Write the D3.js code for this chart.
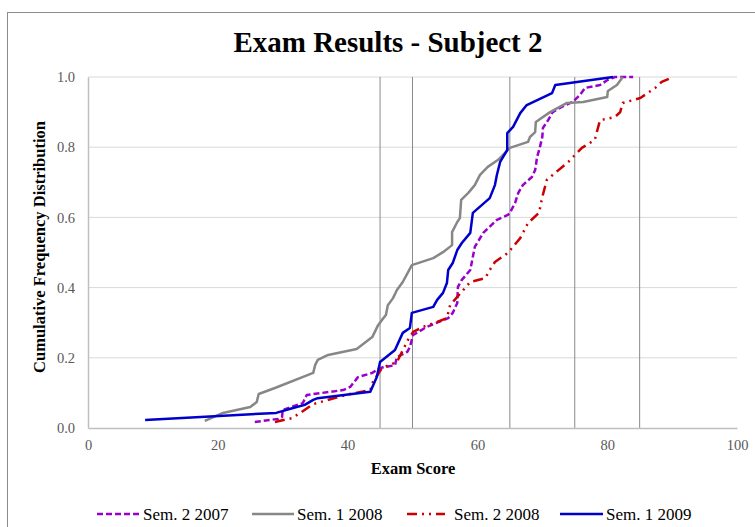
<!DOCTYPE html>
<html>
<head>
<meta charset="utf-8">
<script src="https://cdn.jsdelivr.net/npm/d3@7"></script>
<style>
  body { margin: 0; background: #fff; }
  svg { display: block; font-family: "Liberation Serif", "Times New Roman", serif; }
</style>
</head>
<body>
<div id="chart"></div>
<script>
// Data: [exam score, cumulative frequency]
const sem2_2007 = [
  [25.7, 0.017], [29.3, 0.026], [29.9, 0.031], [30.0, 0.051], [33.1, 0.071], [33.7, 0.094],
  [39.3, 0.108], [40.4, 0.117], [41.6, 0.145], [43.8, 0.157], [45.0, 0.171], [47.3, 0.179],
  [47.6, 0.202], [49.2, 0.217], [49.6, 0.231], [50.1, 0.265], [52.2, 0.288], [55.5, 0.313],
  [56.2, 0.328], [56.9, 0.356], [57.0, 0.402], [57.6, 0.422], [58.9, 0.450], [59.6, 0.516],
  [60.9, 0.556], [63.0, 0.593], [64.7, 0.607], [65.0, 0.613], [65.8, 0.641], [66.3, 0.670],
  [67.0, 0.692], [68.4, 0.715], [68.9, 0.735], [69.2, 0.772], [69.6, 0.798], [70.0, 0.829],
  [70.1, 0.855], [70.9, 0.877], [71.6, 0.900], [73.0, 0.915], [74.7, 0.929], [75.8, 0.949],
  [76.6, 0.969], [78.9, 0.977], [80.0, 0.991], [81.2, 1.0], [84.0, 1.0]
];
const sem1_2008 = [
  [18.0, 0.020], [20.8, 0.043], [25.0, 0.060], [26.0, 0.074], [26.3, 0.097], [28.8, 0.114],
  [34.7, 0.157], [35.0, 0.179], [35.4, 0.194], [37.0, 0.208], [41.4, 0.225], [43.8, 0.259],
  [44.7, 0.293], [45.3, 0.308], [45.9, 0.322], [46.2, 0.350], [47.0, 0.370], [47.6, 0.393],
  [48.5, 0.416], [49.9, 0.464], [53.2, 0.484], [54.7, 0.501], [56.1, 0.521], [56.1, 0.558],
  [56.9, 0.587], [57.3, 0.598], [57.5, 0.650], [58.6, 0.670], [59.6, 0.692], [60.4, 0.721],
  [61.6, 0.744], [63.2, 0.764], [65.0, 0.798], [67.8, 0.815], [68.1, 0.829], [68.9, 0.843],
  [69.0, 0.872], [71.2, 0.900], [73.8, 0.926], [76.3, 0.929], [80.0, 0.943], [80.1, 0.960],
  [81.5, 0.977], [82.4, 1.0]
];
const sem2_2008 = [
  [28.8, 0.017], [31.4, 0.028], [32.7, 0.043], [34.7, 0.068], [38.5, 0.088], [40.4, 0.097],
  [43.5, 0.108], [43.9, 0.131], [45.3, 0.171], [47.6, 0.188], [49.3, 0.251], [50.1, 0.274],
  [51.6, 0.288], [53.8, 0.302], [55.3, 0.313], [55.8, 0.350], [56.5, 0.365], [58.9, 0.416],
  [61.2, 0.427], [61.9, 0.450], [62.7, 0.473], [64.7, 0.499], [66.6, 0.541], [67.8, 0.584],
  [69.5, 0.613], [70.0, 0.658], [70.7, 0.707], [71.6, 0.721], [74.0, 0.758], [76.1, 0.798],
  [78.1, 0.821], [78.4, 0.843], [78.9, 0.877], [81.2, 0.886], [82.0, 0.900], [82.4, 0.926],
  [85.1, 0.940], [87.4, 0.969], [88.4, 0.986], [90.1, 1.0]
];
const sem1_2009 = [
  [8.8, 0.023], [29.0, 0.043], [31.6, 0.057], [33.4, 0.066], [34.7, 0.080], [35.4, 0.085],
  [43.5, 0.103], [44.5, 0.145], [45.0, 0.188], [47.3, 0.222], [48.5, 0.271], [49.6, 0.285],
  [49.9, 0.328], [53.2, 0.345], [53.8, 0.365], [54.7, 0.385], [55.3, 0.413], [55.5, 0.450],
  [56.2, 0.470], [56.9, 0.507], [57.6, 0.527], [58.9, 0.556], [59.3, 0.613], [61.9, 0.655],
  [62.7, 0.692], [63.0, 0.721], [63.5, 0.758], [64.6, 0.792], [64.6, 0.840], [65.5, 0.858],
  [66.6, 0.897], [67.6, 0.920], [71.5, 0.954], [72.0, 0.977], [80.9, 1.0]
];

const seriesNames = ["Sem. 2 2007", "Sem. 1 2008", "Sem. 2 2008", "Sem. 1 2009"];
const seriesData = [sem2_2007, sem1_2008, sem2_2008, sem1_2009];
const markerScores = [45, 50, 65, 75, 85];
const xTicks = [0, 20, 40, 60, 80, 100];
const yTicks = [0, 0.2, 0.4, 0.6, 0.8, 1.0];

const seriesStyle = [
  { color: "#9900cc", dash: "6,3" },
  { color: "#878787", dash: null },
  { color: "#cc0000", dash: "10,5,2,5,2,5" },
  { color: "#0000cc", dash: null }
];

const width = 755, height = 527;
const margin = { top: 77, right: 18, bottom: 99, left: 88 };
const innerW = width - margin.left - margin.right;
const innerH = height - margin.top - margin.bottom;

const svg = d3.select("#chart").append("svg")
  .attr("width", width)
  .attr("height", height);

// outer chart frame (runs off the right/bottom edge)
svg.append("rect")
  .attr("x", 7.5).attr("y", 12.5)
  .attr("width", 800).attr("height", 600)
  .attr("fill", "none")
  .attr("stroke", "#8c8c8c")
  .attr("stroke-width", 1);

svg.append("text")
  .attr("x", 388).attr("y", 52)
  .attr("text-anchor", "middle")
  .attr("font-size", 30)
  .attr("font-weight", "bold")
  .attr("textLength", 309)
  .attr("lengthAdjust", "spacingAndGlyphs")
  .text("Exam Results - Subject 2");

const g = svg.append("g").attr("transform", `translate(${margin.left},${margin.top})`);

const x = d3.scaleLinear().domain([0, 100]).range([0, innerW]);
const y = d3.scaleLinear().domain([0, 1]).range([innerH, 0]);

// horizontal gridlines
g.selectAll(".hgrid")
  .data(yTicks.filter(d => d > 0))
  .enter()
  .append("line")
  .attr("class", "hgrid")
  .attr("x1", 0).attr("x2", innerW)
  .attr("y1", d => y(d)).attr("y2", d => y(d))
  .attr("stroke", "#d9d9d9")
  .attr("stroke-width", 1);

// vertical marker lines
g.selectAll(".vline")
  .data(markerScores)
  .enter()
  .append("line")
  .attr("class", "vline")
  .attr("x1", d => x(d)).attr("x2", d => x(d))
  .attr("y1", y(1)).attr("y2", y(0))
  .attr("stroke", "#8a8a8a")
  .attr("stroke-width", 1);

// axes
const xAxis = g.append("g")
  .attr("transform", `translate(0,${innerH})`)
  .call(d3.axisBottom(x).tickValues(xTicks).tickSize(0).tickPadding(12).tickFormat(d3.format("d")));
const yAxis = g.append("g")
  .call(d3.axisLeft(y).tickValues(yTicks).tickSize(0).tickPadding(13).tickFormat(d3.format(".1f")));

[xAxis, yAxis].forEach(a => {
  a.select(".domain").attr("stroke", "#bfbfbf").attr("stroke-width", 1.5);
  a.selectAll("text")
    .attr("font-family", "Liberation Serif, Times New Roman, serif")
    .attr("font-size", 14.5)
    .attr("fill", "#595959");
});

// series lines
const line = d3.line().x(d => x(d[0])).y(d => y(d[1]));

g.selectAll(".series")
  .data(seriesData)
  .enter()
  .append("path")
  .attr("class", "series")
  .attr("d", d => line(d))
  .attr("fill", "none")
  .attr("stroke", (d, i) => seriesStyle[i].color)
  .attr("stroke-width", 2.5)
  .attr("stroke-linejoin", "round")
  .attr("stroke-dasharray", (d, i) => seriesStyle[i].dash);

// axis titles
svg.append("text")
  .attr("x", 413)
  .attr("y", 474)
  .attr("text-anchor", "middle")
  .attr("font-size", 16.5)
  .attr("font-weight", "bold")
  .text("Exam Score");

svg.append("text")
  .attr("transform", "translate(45,247) rotate(-90)")
  .attr("text-anchor", "middle")
  .attr("font-size", 16.5)
  .attr("font-weight", "bold")
  .text("Cumulative Frequency Distribution");

// legend
const legendX = [97, 252, 407, 560];
const legendLen = [43, 42, 38, 43];
const legend = svg.selectAll(".legend")
  .data(seriesNames)
  .enter()
  .append("g")
  .attr("class", "legend")
  .attr("transform", (d, i) => `translate(${legendX[i]},514)`);

legend.append("line")
  .attr("x1", 0).attr("x2", (d, i) => legendLen[i])
  .attr("y1", 0).attr("y2", 0)
  .attr("stroke", (d, i) => seriesStyle[i].color)
  .attr("stroke-width", 2.5)
  .attr("stroke-dasharray", (d, i) => seriesStyle[i].dash);

legend.append("text")
  .attr("x", (d, i) => legendLen[i] + (i === 2 ? 9 : 3))
  .attr("y", 0)
  .attr("dy", "0.35em")
  .attr("font-size", 17)
  .text(d => d);
</script>
</body>
</html>
